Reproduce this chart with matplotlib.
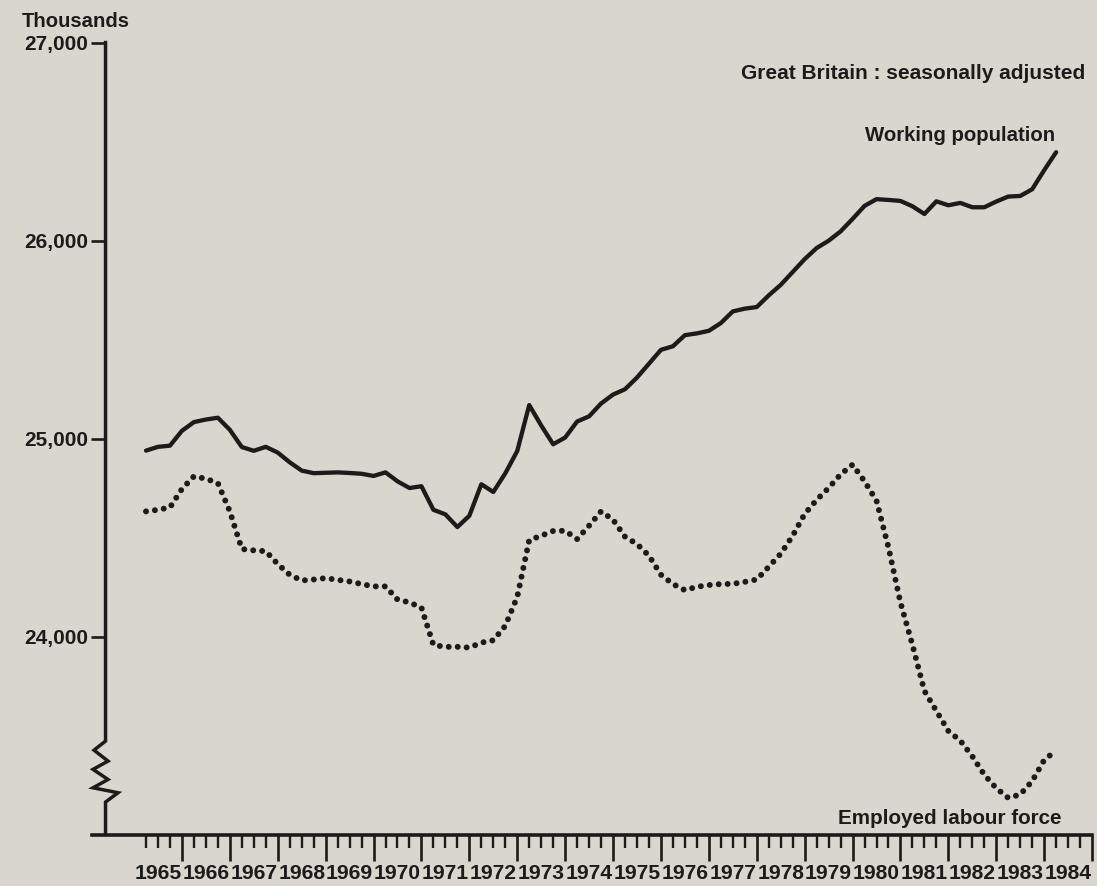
import numpy as np
import matplotlib
matplotlib.use("Agg")
import matplotlib.pyplot as plt
from matplotlib.transforms import blended_transform_factory

plt.rcParams['font.family'] = ['Liberation Sans', 'DejaVu Sans']
plt.rcParams['font.weight'] = 'bold'

# quarterly, 1965 Q1 .. 1984 Q1 (thousands)
first_year = 1965
working_population = [
    24939, 24958, 24964, 25039, 25083, 25096, 25105, 25044, 24957, 24938,
    24958, 24929, 24880, 24838, 24825, 24827, 24829, 24826, 24822, 24811,
    24829, 24784, 24750, 24759, 24640, 24617, 24553, 24610, 24769, 24730,
    24824, 24937, 25169, 25066, 24971, 25005, 25086, 25112, 25177, 25222,
    25249, 25308, 25378, 25448, 25466, 25522, 25531, 25544, 25583, 25642,
    25656, 25664, 25723, 25776, 25841, 25906, 25962, 25999, 26046, 26109,
    26175, 26209, 26205, 26200, 26173, 26134, 26198, 26178, 26190, 26168,
    26168, 26197, 26222, 26225, 26259, 26355, 26446,
]
employed_labour_force = [
    24632, 24640, 24652, 24745, 24809, 24797, 24775, 24632, 24442, 24435,
    24431, 24366, 24312, 24283, 24288, 24295, 24286, 24278, 24265, 24253,
    24253, 24187, 24172, 24146, 23957, 23948, 23948, 23944, 23969, 23981,
    24054, 24200, 24487, 24509, 24533, 24534, 24492, 24560, 24632, 24590,
    24504, 24467, 24408, 24312, 24265, 24234, 24251, 24260, 24265, 24266,
    24276, 24288, 24352, 24418, 24509, 24619, 24690, 24750, 24819, 24868,
    24784, 24686, 24450, 24172, 23958, 23725, 23624, 23523, 23474, 23395,
    23302, 23234, 23185, 23202, 23270, 23376, 23425,
]
year_labels = [str(y) for y in range(1965, 1985)]
y_ticks = [24000, 25000, 26000, 27000]

bg = '#d9d7cd'
ink = '#1b1b1b'

fig = plt.figure(figsize=(10.97, 8.86), dpi=100, facecolor=bg)
ax = fig.add_axes([0.0962, 0.0581, 0.8993, 0.8939])
ax.set_facecolor(bg)

q = first_year + 0.25 * np.arange(1, len(working_population) + 1)
ax.plot(q, working_population, color=ink, lw=3.1, solid_joinstyle='round',
        solid_capstyle='round')
ax.plot(q, employed_labour_force, color=ink, lw=4.3,
        linestyle=(0, (0.001, 1.5)), dash_capstyle='round')

ax.set_xlim(1964.405, 1985)
ax.set_ylim(23000, 27000)

for s in ax.spines.values():
    s.set_visible(False)

# axes lines drawn by hand (broken y axis, x axis sticking out to the left)
tr = blended_transform_factory(ax.transAxes, ax.transData)
w = 986.5
zx = np.array([0, 0, -11.5, 2.5, -12.5, 2.5, -12.5, 12.5, 0, 0]) / w
zy = [27000, 23472, 23426, 23371, 23329, 23278, 23236, 23211, 23164, 23000]
ax.plot(zx, zy, color=ink, lw=2.5, transform=tr, clip_on=False,
        solid_joinstyle='miter')
ax.plot([-13.5 / w, 1.0], [0, 0], color=ink, lw=2.6,
        transform=ax.transAxes, clip_on=False)

ax.set_yticks(y_ticks)
ax.set_yticklabels([f'{v:,}' for v in y_ticks])
ax.tick_params(axis='y', direction='out', length=10.5, width=1.9,
               color=ink, pad=2, labelsize=15, labelcolor=ink)

ax.set_xticks(np.arange(1966, 1986))
ax.set_xticks([y + k / 4 for y in range(1965, 1985) for k in (1, 2, 3)],
              minor=True)
ax.tick_params(axis='x', which='major', direction='out', length=18.5,
               width=1.9, color=ink, labelbottom=False)
ax.tick_params(axis='x', which='minor', direction='out', length=9,
               width=1.7, color=ink)
for y, lab in zip(range(1965, 1985), year_labels):
    ax.annotate(lab, (y + 0.5, 0), xycoords=('data', 'axes fraction'),
                xytext=(0, -28), textcoords='offset points',
                ha='center', va='center', fontsize=15.2, color=ink,
                fontweight='bold')

fig.text(0.02, 0.9695, 'Thousands', fontsize=14.6, color=ink,
         ha='left', va='baseline', fontweight='bold')
fig.text(0.989, 0.9176, 'Great Britain : seasonally adjusted', fontsize=15,
         color=ink, ha='right', va='center', fontweight='bold')
fig.text(0.9617, 0.8476, 'Working population', fontsize=14.7, color=ink,
         ha='right', va='center', fontweight='bold')
fig.text(0.968, 0.0767, 'Employed labour force', fontsize=14.9, color=ink,
         ha='right', va='center', fontweight='bold')

fig.savefig('out.png', dpi=100, facecolor=bg)
